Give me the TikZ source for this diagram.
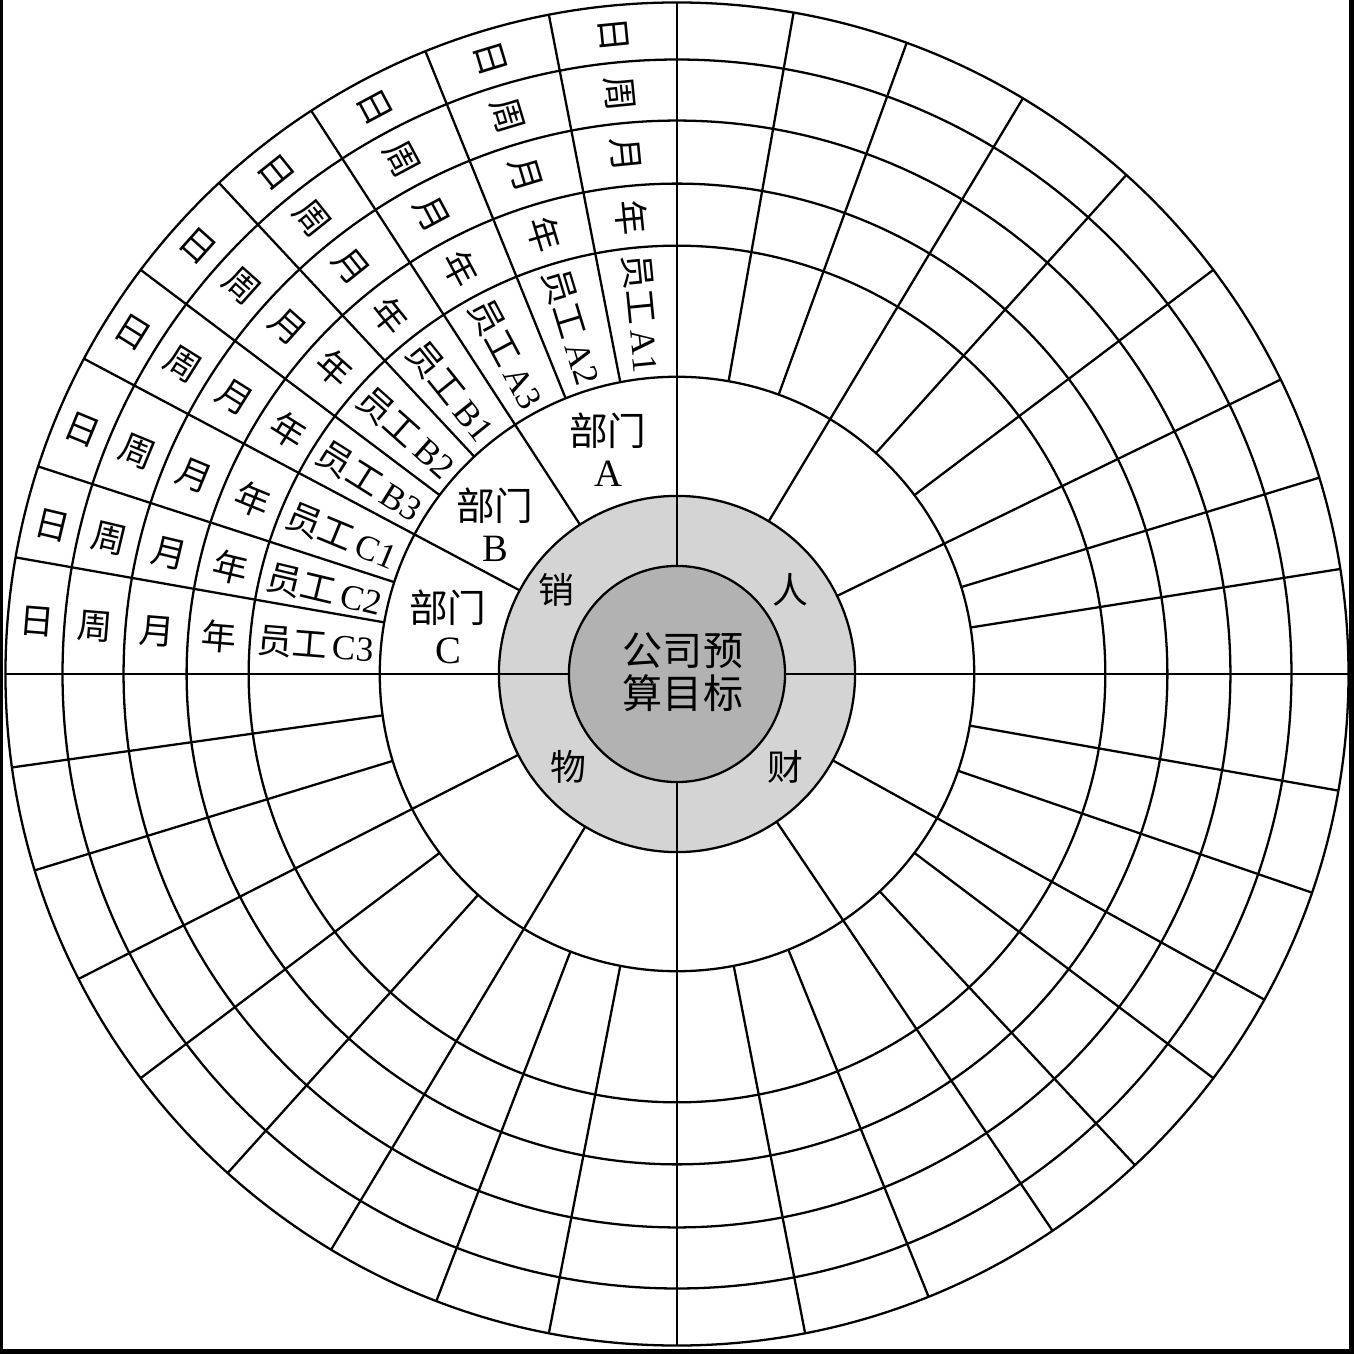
\documentclass[tikz,border=0pt]{standalone}
\usepackage{fontspec}
\setmainfont{Liberation Serif}
\newfontfamily\cjk{Noto Sans CJK SC}
\tikzset{
	ring/.style = {
		circle,
		draw = black,
		line width = 0.65pt,
		inner sep = 0pt,
		outer sep = 0pt
	},
	spoke/.style = {
		draw = black,
		line width = 0.65pt
	},
	period/.style = {
		inner sep = 0pt,
		font = \cjk\fontsize{10}{12}\selectfont
	},
	staff/.style = {
		inner sep = 0pt,
		font = \fontsize{10}{12}\selectfont
	},
	unit/.style = {
		align = center,
		inner sep = 0pt,
		font = \fontsize{11}{11.7}\selectfont
	},
	area/.style = {
		inner sep = 0pt,
		font = \cjk\fontsize{10.2}{12}\selectfont
	},
	goal/.style = {
		align = center,
		inner sep = 0pt,
		font = \cjk\fontsize{11.4}{12.2}\selectfont
	}
}

\begin{document}
\begin{tikzpicture}[x = 0.01cm, y = 0.01cm]
	\useasboundingbox (-677,-680) rectangle (677,674);

	% dark edges of the scan
	\fill[black] (-677,-680) rectangle (-674,674);
	\fill[black] (672,-680) rectangle (677,674);
	\fill[black] (-677,-680) rectangle (677,-675);

	% rings, from the rim inwards
	\foreach \r/\n in {671/R8, 614/R7, 553/R6, 490/R5, 428/R4, 297/R3}
		\node[ring, minimum size = 0.02cm*\r] (\n) at (0,0) {};
	\node[ring, fill = black!17, minimum size = 3.56cm] (R2) at (0,0) {};
	\node[ring, fill = black!30, minimum size = 2.16cm] (R1) at (0,0) {};

	% quadrant axes
	\foreach \a in {0, 90, 180, 270}
		\draw[spoke] (R1.\a) -- (R8.\a);
	% department borders
	\foreach \a in {26.6, 59.7, 123.8, 152.8, 207, 239.5, 304, 331.8}
		\draw[spoke] (R2.\a) -- (R8.\a);
	% staff borders
	\foreach \a in {9.1, 17.8, 37.5, 48.3, 70.2, 80.6,
			101.3, 112.4, 133.5, 143, 162.5, 170.7,
			188.6, 197.3, 217.4, 228.8, 249.4, 259.2,
			281.4, 292.8, 313.3, 323, 341, 350.6}
		\draw[spoke] (R3.\a) -- (R8.\a);

	% staff cells of the sales quadrant
	\foreach \a/\b/\e in {90/101.3/A1, 101.3/112.4/A2, 112.4/123.8/A3,
			123.8/133.5/B1, 133.5/143/B2, 143/152.8/B3,
			152.8/162.5/C1, 162.5/170.7/C2, 170.7/180/C3} {
		\pgfmathsetmacro{\m}{(\a+\b)/2}
		\node[staff, rotate = \m+180]  (staff\e) at (\m:362.5) {{\cjk 员工}\kern1.5pt\e};
		\node[period, rotate = \m+180] (year\e)  at (\m:459)   {年};
		\node[period, rotate = \m+180] (month\e) at (\m:521.5) {月};
		\node[period, rotate = \m+180] (week\e)  at (\m:583.5) {周};
		\node[period, rotate = \m+180] (day\e)   at (\m:642.5) {日};
	}

	\node[unit] (deptA) at (-69,224)  {{\cjk 部门}\\A};
	\node[unit] (deptB) at (-182,149) {{\cjk 部门}\\B};
	\node[unit] (deptC) at (-229,47)  {{\cjk 部门}\\C};

	\node[area] (sales) at (-121,84)  {销};
	\node[area] (human) at (113,84)   {人};
	\node[area] (goods) at (-109,-93) {物};
	\node[area] (money) at (108,-93)  {财};

	\node[goal] (budget) at (6,2) {公司预\\算目标};
\end{tikzpicture}
\end{document}
